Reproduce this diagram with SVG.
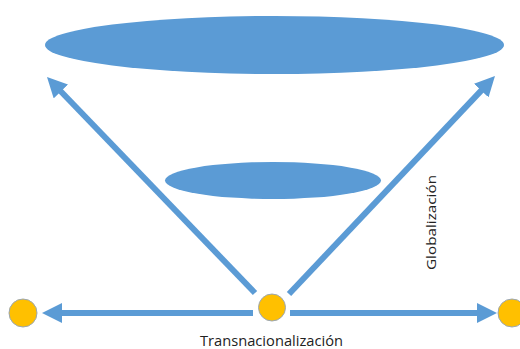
<svg xmlns="http://www.w3.org/2000/svg" width="520" height="349" viewBox="0 0 520 349">
<style>
.shape{fill:#5B9BD5}
.arrow{stroke:#5B9BD5;stroke-width:6;fill:none}
.dot{fill:#FFC000;stroke:#9AA7B5;stroke-width:1}
.lbl{font-family:"Open Sans","Liberation Sans",sans-serif;fill:#222}
</style>
<defs>
<marker id="ah" markerUnits="userSpaceOnUse" markerWidth="20" markerHeight="20" refX="2" refY="10" orient="auto">
<path d="M0,0 L20,10 L0,20 z" fill="#5B9BD5"/>
</marker>
</defs>
<rect width="520" height="349" fill="#fff"/>
<g id="connectors">
<line class="arrow" x1="253" y1="313" x2="60" y2="313" marker-end="url(#ah)"/>
<line class="arrow" x1="290" y1="313" x2="479" y2="313" marker-end="url(#ah)"/>
<line class="arrow" x1="255" y1="293" x2="59.5" y2="90" marker-end="url(#ah)"/>
<line class="arrow" x1="289" y1="294" x2="482.6" y2="89.1" marker-end="url(#ah)"/>
</g>
<g id="big-ellipse"><ellipse class="shape" cx="274.5" cy="45" rx="229.5" ry="29"/></g>
<g id="small-ellipse"><ellipse class="shape" cx="273" cy="180.5" rx="108" ry="18.5"/></g>
<g id="center-dot"><circle class="dot" cx="272" cy="307.5" r="13.5"/></g>
<g id="left-dot"><circle class="dot" cx="23" cy="313" r="14"/></g>
<g id="right-dot"><circle class="dot" cx="512" cy="313" r="14"/></g>
<g id="label-trans"><text class="lbl" x="271.5" y="346" font-size="14" text-anchor="middle" textLength="143" lengthAdjust="spacingAndGlyphs">Transnacionalización</text></g>
<g id="label-glob"><text class="lbl" transform="translate(436,222.5) rotate(-90)" x="0" y="0" font-size="13" text-anchor="middle" textLength="95" lengthAdjust="spacingAndGlyphs">Globalización</text></g>
</svg>
